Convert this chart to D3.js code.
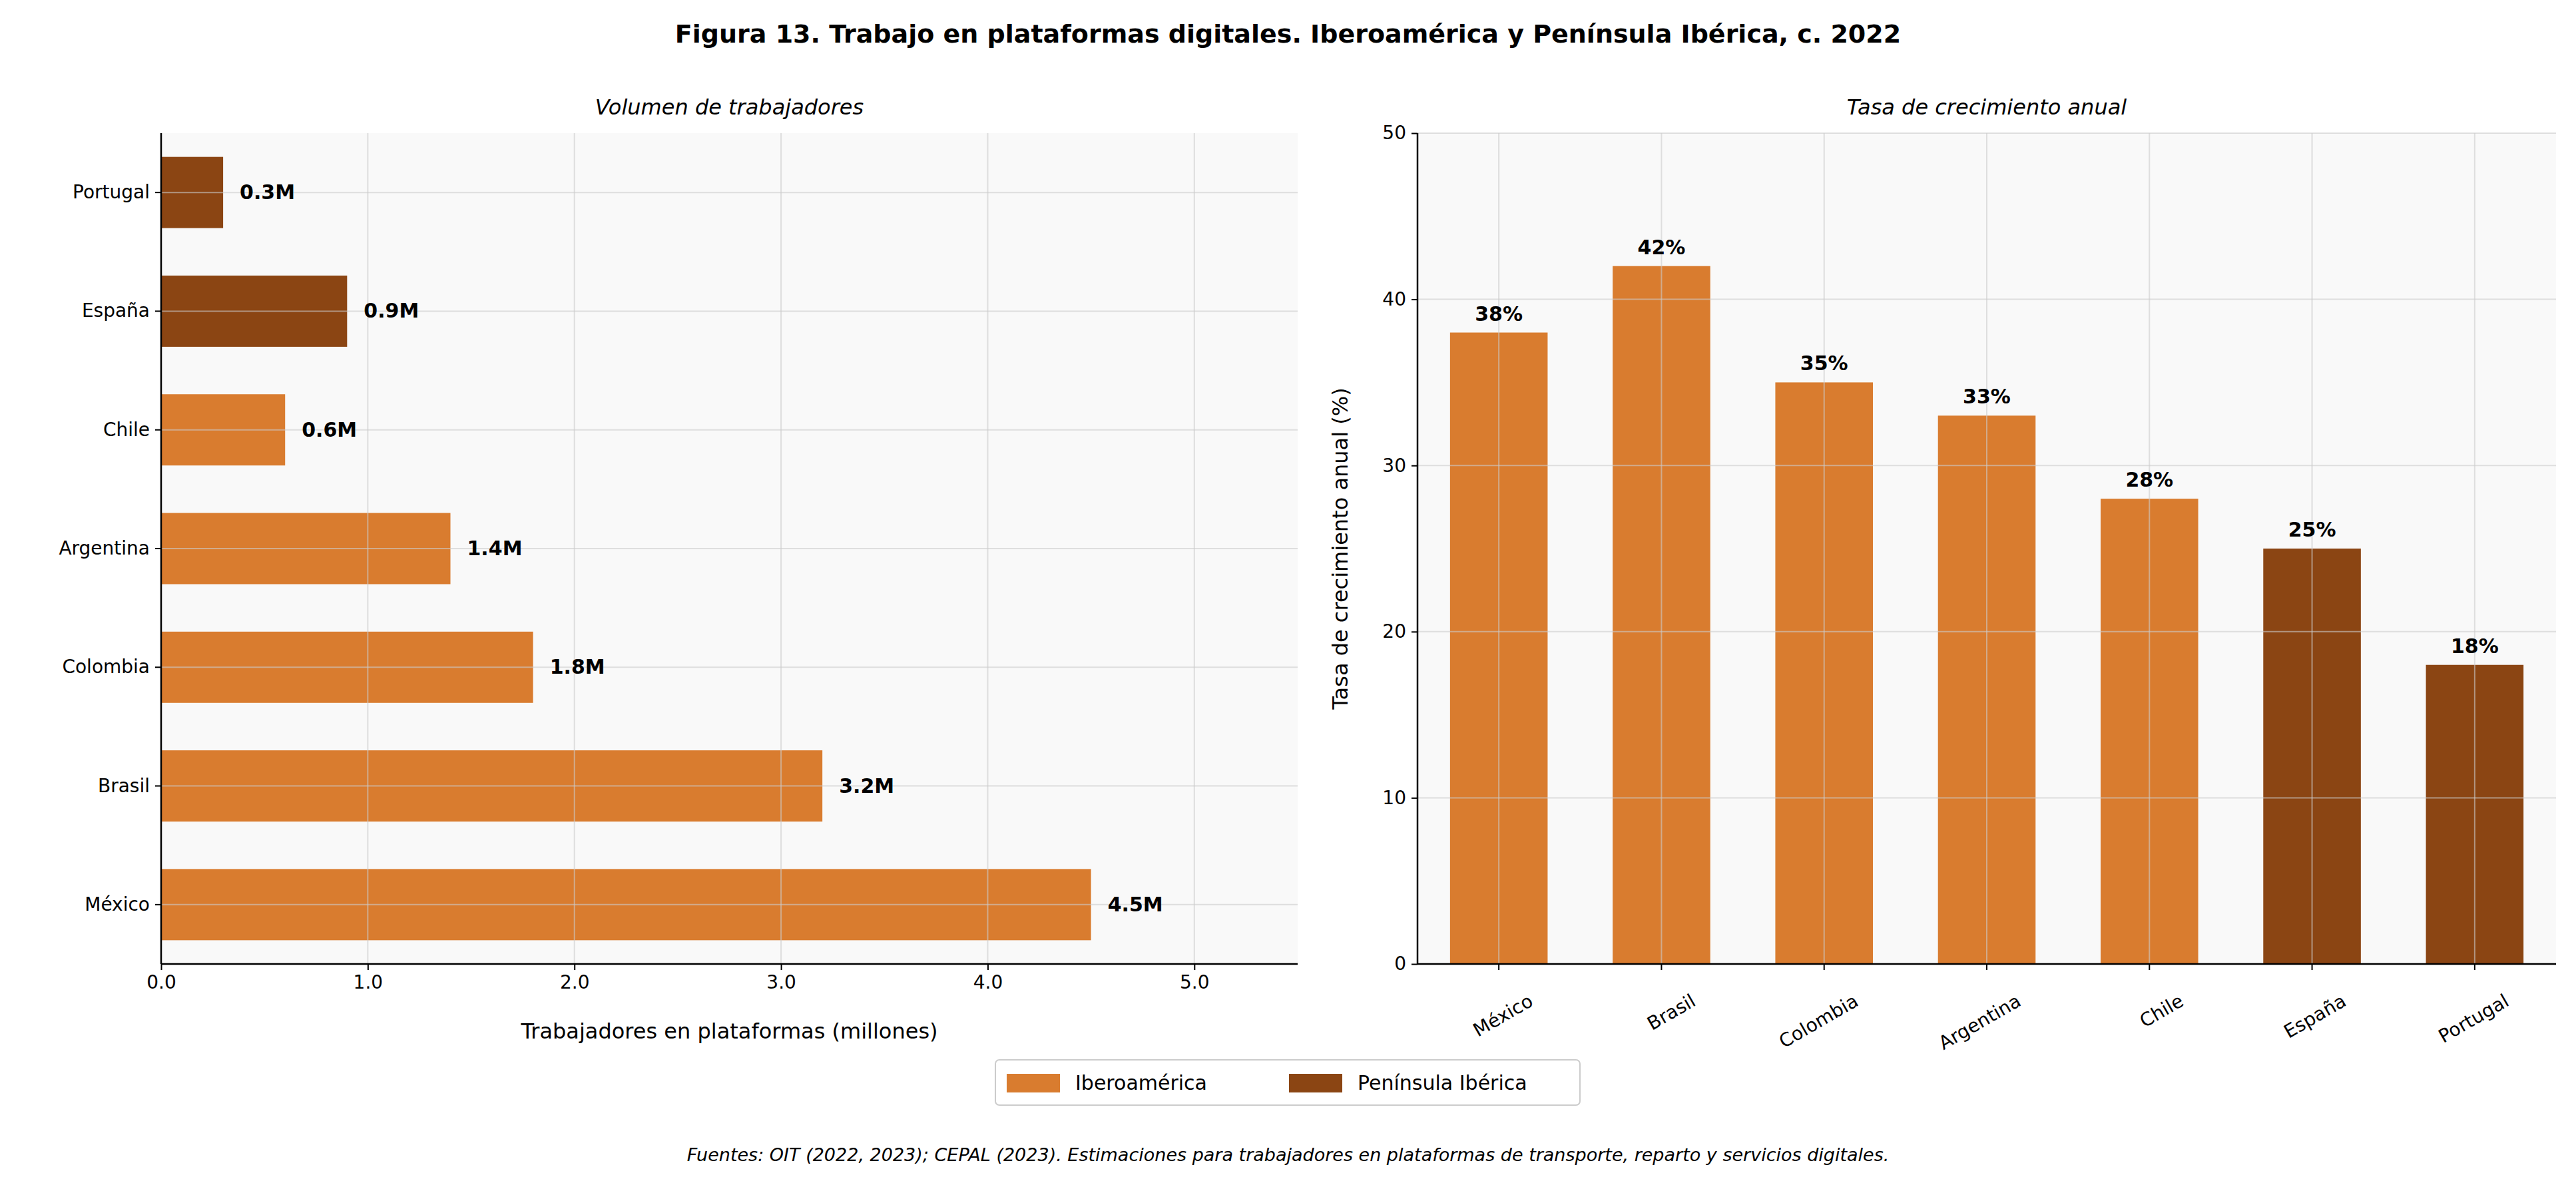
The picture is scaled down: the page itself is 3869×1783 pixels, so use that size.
<!DOCTYPE html>
<html><head><meta charset="utf-8">
<script src="https://cdn.jsdelivr.net/npm/d3@7"></script>
<style>body{margin:0;background:#fff;font-family:"DejaVu Sans",sans-serif}</style>
</head><body>
<script>
// datos
var paisesVol = ["México", "Brasil", "Colombia", "Argentina", "Chile", "España", "Portugal"];
var volumen = [4.5, 3.2, 1.8, 1.4, 0.6, 0.9, 0.3];
var paisesTasa = ["México", "Brasil", "Colombia", "Argentina", "Chile", "España", "Portugal"];
var tasa = [38, 42, 35, 33, 28, 25, 18];
var region = ["ibero", "ibero", "ibero", "ibero", "ibero", "iberica", "iberica"];
var xTicks = [0, 1, 2, 3, 4, 5];
var yTicks = [0, 10, 20, 30, 40, 50];

var W = 3869, H = 1783;
var color = {ibero: "#D97C2F", iberica: "#8B4513"};
var svg = d3.select("body").append("svg").attr("width", W).attr("height", H);

svg.append("text").attr("x", W / 2).attr("y", 64).attr("text-anchor", "middle")
    .attr("font-size", 38).attr("font-weight", "bold")
    .text("Figura 13. Trabajo en plataformas digitales. Iberoamérica y Península Ibérica, c. 2022");

// panel izquierdo
var L = {x0: 242, x1: 1949, y0: 200, y1: 1448};
var x = d3.scaleLinear().domain([0, 5.5]).range([L.x0, L.x1]);
var yb = d3.scaleBand().domain(paisesVol.slice().reverse()).range([L.y0, L.y1]).paddingInner(0.4).paddingOuter(0.2);
var gl = svg.append("g");
gl.append("rect").attr("x", L.x0).attr("y", L.y0).attr("width", L.x1 - L.x0).attr("height", L.y1 - L.y0).attr("fill", "#f9f9f9");
gl.selectAll(".bar").data(paisesVol).enter().append("rect")
    .attr("x", L.x0).attr("y", function (d) { return yb(d); })
    .attr("width", function (d, i) { return x(volumen[i]) - L.x0; })
    .attr("height", yb.bandwidth())
    .attr("fill", function (d, i) { return color[region[i]]; });
gl.selectAll(".gx").data(xTicks).enter().append("line")
    .attr("x1", function (d) { return x(d); }).attr("x2", function (d) { return x(d); })
    .attr("y1", L.y0).attr("y2", L.y1).attr("stroke", "#ccc").attr("stroke-opacity", 0.6).attr("stroke-width", 2);
gl.selectAll(".gy").data(paisesVol).enter().append("line")
    .attr("x1", L.x0).attr("x2", L.x1)
    .attr("y1", function (d) { return yb(d) + yb.bandwidth() / 2; })
    .attr("y2", function (d) { return yb(d) + yb.bandwidth() / 2; })
    .attr("stroke", "#ccc").attr("stroke-opacity", 0.6).attr("stroke-width", 2);
gl.selectAll(".lab").data(paisesVol).enter().append("text")
    .attr("x", function (d, i) { return x(volumen[i]) + 25; })
    .attr("y", function (d) { return yb(d) + yb.bandwidth() / 2 + 10; })
    .attr("font-size", 30).attr("font-weight", "bold").text(function (d, i) { return volumen[i] + "M"; });
var ax = gl.append("g").attr("transform", "translate(0," + L.y1 + ")")
    .call(d3.axisBottom(x).tickValues(xTicks).tickSize(9).tickPadding(8));
ax.select(".domain").remove();
ax.append("line").attr("x1", L.x0).attr("x2", L.x1).attr("stroke", "#000").attr("stroke-width", 2.5);
var ay = gl.append("g").attr("transform", "translate(" + L.x0 + ",0)")
    .call(d3.axisLeft(yb).tickSize(9).tickPadding(8));
ay.select(".domain").remove();
ay.append("line").attr("y1", L.y0).attr("y2", L.y1).attr("stroke", "#000").attr("stroke-width", 2.5);
gl.selectAll(".tick text").attr("font-size", 28).attr("font-family", "DejaVu Sans");
gl.selectAll(".tick line").attr("stroke-width", 2);
gl.append("text").attr("x", (L.x0 + L.x1) / 2).attr("y", L.y1 + 112).attr("text-anchor", "middle")
    .attr("font-size", 32).text("Trabajadores en plataformas (millones)");
gl.append("text").attr("x", (L.x0 + L.x1) / 2).attr("y", 172).attr("text-anchor", "middle")
    .attr("font-size", 32).attr("font-style", "italic").text("Volumen de trabajadores");

// panel derecho
var R = {x0: 2129, x1: 3839, y0: 200, y1: 1448};
var xb = d3.scaleBand().domain(paisesTasa).range([R.x0, R.x1]).paddingInner(0.4).paddingOuter(0.2);
var y = d3.scaleLinear().domain([0, 50]).range([R.y1, R.y0]);
var gr = svg.append("g");
gr.append("rect").attr("x", R.x0).attr("y", R.y0).attr("width", R.x1 - R.x0).attr("height", R.y1 - R.y0).attr("fill", "#f9f9f9");
gr.selectAll(".bar").data(paisesTasa).enter().append("rect")
    .attr("x", function (d) { return xb(d); }).attr("y", function (d, i) { return y(tasa[i]); })
    .attr("width", xb.bandwidth()).attr("height", function (d, i) { return R.y1 - y(tasa[i]); })
    .attr("fill", function (d, i) { return color[region[i]]; });
gr.selectAll(".gy").data(yTicks).enter().append("line")
    .attr("x1", R.x0).attr("x2", R.x1)
    .attr("y1", function (d) { return y(d); }).attr("y2", function (d) { return y(d); })
    .attr("stroke", "#ccc").attr("stroke-opacity", 0.6).attr("stroke-width", 2);
gr.selectAll(".gx").data(paisesTasa).enter().append("line")
    .attr("x1", function (d) { return xb(d) + xb.bandwidth() / 2; })
    .attr("x2", function (d) { return xb(d) + xb.bandwidth() / 2; })
    .attr("y1", R.y0).attr("y2", R.y1).attr("stroke", "#ccc").attr("stroke-opacity", 0.6).attr("stroke-width", 2);
gr.selectAll(".lab").data(paisesTasa).enter().append("text")
    .attr("x", function (d) { return xb(d) + xb.bandwidth() / 2; })
    .attr("y", function (d, i) { return y(tasa[i]) - 18; }).attr("text-anchor", "middle")
    .attr("font-size", 30).attr("font-weight", "bold").text(function (d, i) { return tasa[i] + "%"; });
var bx = gr.append("g").attr("transform", "translate(0," + R.y1 + ")")
    .call(d3.axisBottom(xb).tickSize(9).tickPadding(8));
bx.select(".domain").remove();
bx.append("line").attr("x1", R.x0).attr("x2", R.x1).attr("stroke", "#000").attr("stroke-width", 2.5);
bx.selectAll(".tick text").attr("text-anchor", "end").attr("dy", "0.35em")
    .attr("transform", "translate(40,38) rotate(-30)");
var by = gr.append("g").attr("transform", "translate(" + R.x0 + ",0)")
    .call(d3.axisLeft(y).tickValues(yTicks).tickSize(9).tickPadding(8));
by.select(".domain").remove();
by.append("line").attr("y1", R.y0).attr("y2", R.y1).attr("stroke", "#000").attr("stroke-width", 2.5);
gr.selectAll(".tick text").attr("font-size", 28).attr("font-family", "DejaVu Sans");
gr.selectAll(".tick line").attr("stroke-width", 2);
gr.append("text").attr("transform", "translate(" + (R.x0 - 105) + "," + ((R.y0 + R.y1) / 2) + ") rotate(-90)")
    .attr("text-anchor", "middle").attr("font-size", 32).text("Tasa de crecimiento anual (%)");
gr.append("text").attr("x", (R.x0 + R.x1) / 2).attr("y", 172).attr("text-anchor", "middle")
    .attr("font-size", 32).attr("font-style", "italic").text("Tasa de crecimiento anual");

// leyenda
var lg = svg.append("g");
lg.append("rect").attr("x", 1495).attr("y", 1592).attr("width", 878).attr("height", 68).attr("rx", 6)
    .attr("fill", "#fff").attr("stroke", "#ccc").attr("stroke-width", 2);
var items = [["Iberoamérica", color.ibero, 1512], ["Península Ibérica", color.iberica, 1936]];
items.forEach(function (it) {
    lg.append("rect").attr("x", it[2]).attr("y", 1613).attr("width", 80).attr("height", 28).attr("fill", it[1]);
    lg.append("text").attr("x", it[2] + 103).attr("y", 1637).attr("font-size", 30).text(it[0]);
});

svg.append("text").attr("x", W / 2).attr("y", 1744).attr("text-anchor", "middle")
    .attr("font-size", 27).attr("font-style", "italic")
    .text("Fuentes: OIT (2022, 2023); CEPAL (2023). Estimaciones para trabajadores en plataformas de transporte, reparto y servicios digitales.");
</script>
</body></html>
